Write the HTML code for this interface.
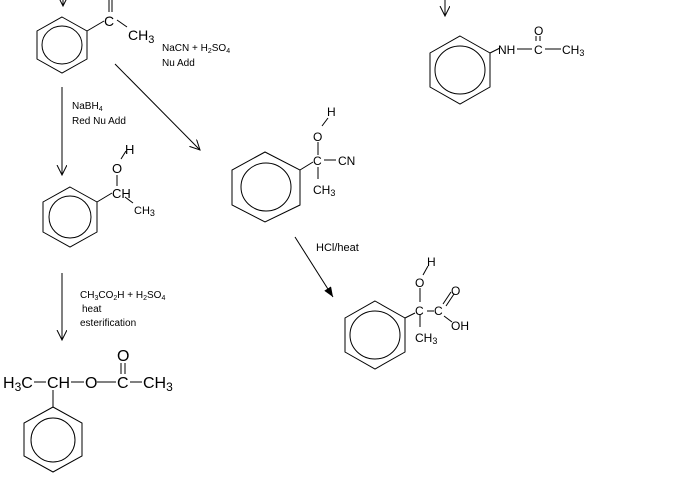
<!DOCTYPE html>
<html><head><meta charset="utf-8"><style>
html,body{margin:0;padding:0;background:#fff;}
svg{display:block;}
text{font-family:"Liberation Sans",sans-serif;fill:#000;}
.r{font-size:10px;}
.m{font-size:13px;}
.b{font-size:16px;}
</style></head><body>
<svg width="696" height="478" viewBox="0 0 696 478" xmlns="http://www.w3.org/2000/svg" stroke="#000" stroke-width="1" fill="none">
<defs>
<marker id="a" markerWidth="12" markerHeight="12" refX="10" refY="5" orient="auto" markerUnits="userSpaceOnUse"><path d="M0,0 L10,5 L0,10" fill="none" stroke="#000"/></marker>
<marker id="f" markerWidth="12" markerHeight="12" refX="10" refY="4" orient="auto" markerUnits="userSpaceOnUse"><path d="M0,0 L10,4 L0,8z" fill="#000" stroke="none"/></marker>
</defs>
<!-- top arrows -->
<line x1="63" y1="-4" x2="63" y2="6" marker-end="url(#a)"/>
<line x1="445" y1="-4" x2="445" y2="16" marker-end="url(#a)"/>
<!-- Mol1 -->
<polygon points="62,17 87,31 87,59 62,73 37,59 37,31"/>
<ellipse cx="62" cy="45" rx="20" ry="19"/>
<line x1="87" y1="31" x2="104" y2="21"/>
<line x1="109" y1="0" x2="109" y2="12"/><line x1="112" y1="0" x2="112" y2="12"/>
<line x1="117" y1="20" x2="127" y2="27"/>
<g stroke="none"><text class="m" x="104" y="26" style="font-size:14px">C</text>
<text x="128" y="40" style="font-size:14px">CH<tspan dy="3" font-size="11">3</tspan></text>
<text class="r" x="162" y="51">NaCN + H<tspan dy="2" font-size="7">2</tspan><tspan dy="-2">SO</tspan><tspan dy="2" font-size="7">4</tspan></text>
<text class="r" x="162" y="66">Nu Add</text>
<text class="r" x="72" y="109">NaBH<tspan dy="2" font-size="7">4</tspan></text>
<text class="r" x="72" y="124">Red  Nu Add</text></g>
<line x1="115" y1="64" x2="200" y2="150" marker-end="url(#a)"/>
<line x1="62" y1="87" x2="62" y2="175" marker-end="url(#a)"/>
<!-- Mol2 -->
<polygon points="70,187 97,202 97,232 70,247 43,232 43,202"/>
<ellipse cx="70" cy="217" rx="21" ry="21"/>
<line x1="97" y1="202" x2="112" y2="193"/>
<line x1="117" y1="175" x2="117" y2="186"/>
<line x1="121" y1="159" x2="126" y2="151"/>
<line x1="125" y1="197" x2="133" y2="203"/>
<g stroke="none"><text class="m" x="125" y="154">H</text>
<text class="m" x="112" y="173">O</text>
<text class="m" x="112" y="198">CH</text>
<text x="134" y="214" style="font-size:11px">CH<tspan dy="2" font-size="9">3</tspan></text>
<text class="r" x="80" y="298">CH<tspan dy="2" font-size="7">3</tspan><tspan dy="-2">CO</tspan><tspan dy="2" font-size="7">2</tspan><tspan dy="-2">H + H</tspan><tspan dy="2" font-size="7">2</tspan><tspan dy="-2">SO</tspan><tspan dy="2" font-size="7">4</tspan></text>
<text class="r" x="82" y="312">heat</text>
<text class="r" x="80" y="326">esterification</text></g>
<line x1="62" y1="273" x2="62" y2="340" marker-end="url(#a)"/>
<!-- ester -->
<g stroke="none"><text class="b" x="3" y="388">H<tspan dy="3" font-size="12">3</tspan><tspan dy="-3">C</tspan></text>
<text class="b" x="47" y="388">CH</text>
<text class="b" x="85" y="388">O</text>
<text class="b" x="117" y="388">C</text>
<text class="b" x="143" y="388">CH<tspan dy="3" font-size="12">3</tspan></text>
<text class="b" x="117" y="361">O</text></g>
<line x1="34" y1="382" x2="46" y2="382"/><line x1="71" y1="382" x2="84" y2="382"/>
<line x1="97" y1="382" x2="116" y2="382"/><line x1="130" y1="382" x2="142" y2="382"/>
<line x1="121" y1="363" x2="121" y2="374"/><line x1="125" y1="363" x2="125" y2="374"/>
<line x1="53" y1="390" x2="53" y2="407"/>
<polygon points="53,407 82,423 82,456 53,472 24,456 24,423"/>
<circle cx="53" cy="440" r="22"/>
<!-- Mol3 -->
<polygon points="265,152 300,170 300,205 265,222 232,205 232,170"/>
<ellipse cx="266" cy="187" rx="25" ry="24"/>
<line x1="300" y1="170" x2="313" y2="162"/>
<line x1="318" y1="142" x2="318" y2="155"/>
<line x1="318" y1="167" x2="318" y2="179"/>
<line x1="324" y1="160" x2="336" y2="160"/>
<line x1="322" y1="126" x2="328" y2="118"/>
<g stroke="none" style="font-size:12px"><text x="327" y="116">H</text>
<text x="313" y="141">O</text>
<text x="313" y="165">C</text>
<text x="338" y="165">CN</text>
<text x="313" y="194">CH<tspan dy="2" font-size="9">3</tspan></text>
<text class="r" x="316" y="251" style="font-size:11px">HCl/heat</text></g>
<line x1="295" y1="237" x2="333" y2="297" marker-end="url(#f)"/>
<!-- Mol4 -->
<polygon points="375,301 405,318 405,352 375,369 345,352 345,318"/>
<ellipse cx="375" cy="335" rx="25" ry="24"/>
<line x1="405" y1="318" x2="415" y2="313"/>
<line x1="420" y1="288" x2="420" y2="302"/>
<line x1="420" y1="314" x2="420" y2="327"/>
<line x1="427" y1="311" x2="434" y2="311"/>
<line x1="443" y1="304" x2="451" y2="292"/><line x1="446" y1="306" x2="454" y2="294"/>
<line x1="444" y1="316" x2="452" y2="322"/>
<line x1="423" y1="275" x2="428" y2="266"/>
<g stroke="none" style="font-size:12px"><text x="427" y="266">H</text>
<text x="415" y="287">O</text>
<text x="415" y="315">C</text>
<text x="434" y="315">C</text>
<text x="451" y="295">O</text>
<text x="451" y="330">OH</text>
<text x="415" y="342">CH<tspan dy="2" font-size="9">3</tspan></text></g>
<!-- Mol5 -->
<polygon points="460,36 490,53 490,87 460,104 430,87 430,53"/>
<ellipse cx="460" cy="70" rx="25" ry="24"/>
<line x1="490" y1="53" x2="500" y2="48"/>
<line x1="517" y1="49" x2="532" y2="49"/><line x1="545" y1="49" x2="561" y2="49"/>
<line x1="536" y1="36" x2="536" y2="41"/><line x1="540" y1="36" x2="540" y2="41"/>
<g stroke="none" style="font-size:12px"><text x="498" y="54">NH</text>
<text x="534" y="54">C</text>
<text x="534" y="35">O</text>
<text x="562" y="54">CH<tspan dy="2" font-size="9">3</tspan></text></g>
</svg>
</body></html>
